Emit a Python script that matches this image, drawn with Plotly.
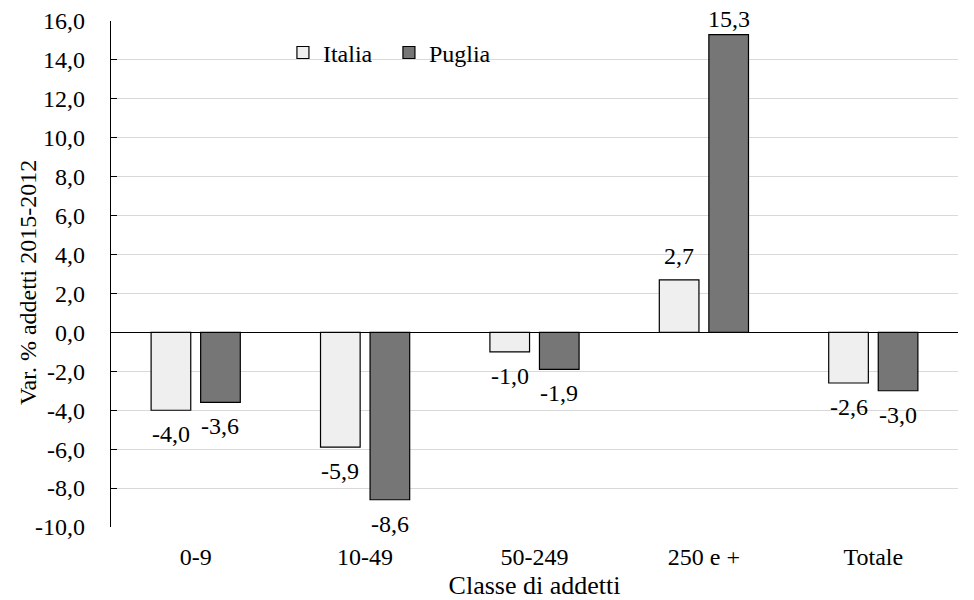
import plotly.graph_objects as go

categories = ["0-9", "10-49", "50-249", "250 e +", "Totale"]
italia = [-4.0, -5.9, -1.0, 2.7, -2.6]
puglia = [-3.6, -8.6, -1.9, 15.3, -3.0]
series_names = ["Italia", "Puglia"]
y_ticks = list(range(-10, 17, 2))
y_ticktext = [f"{v:.1f}".replace(".", ",") for v in y_ticks]

FONT = "'Liberation Serif', 'Times New Roman', 'DejaVu Serif', serif"
FS = 24
Y_MIN, Y_MAX = -10, 16
PX_PER_UNIT = 506 / (Y_MAX - Y_MIN)

fig = go.Figure()
fig.add_trace(go.Bar(x=categories, y=italia, name=series_names[0],
                     marker=dict(color="#efefef", line=dict(color="#000000", width=1.2))))
fig.add_trace(go.Bar(x=categories, y=puglia, name=series_names[1],
                     marker=dict(color="#767676", line=dict(color="#000000", width=1.2))))

# data labels (kept inside the chart area near the top, as in the original)
for vals, shift in ((italia, -24.75), (puglia, 24.75)):
    for c, v in zip(categories, vals):
        if v >= 0:
            ys = min(24, (Y_MAX - v) * PX_PER_UNIT + 1.5)
        else:
            ys = -24
        fig.add_annotation(x=c, y=v, text=f"{v:.1f}".replace(".", ","),
                           showarrow=False, xshift=shift, yshift=ys, yanchor="middle",
                           font=dict(family=FONT, size=FS, color="#000000"))

# y-axis title
fig.add_annotation(xref="paper", yref="paper", x=-0.098, y=0.484,
                   text="Var. % addetti 2015-2012", textangle=-90, showarrow=False,
                   xanchor="center", yanchor="middle",
                   font=dict(family=FONT, size=FS, color="#000000"))

fig.update_layout(
    width=974, height=600,
    margin=dict(l=111, r=16, t=21, b=73, autoexpand=False),
    paper_bgcolor="white", plot_bgcolor="white",
    barmode="group", bargap=0.415, bargroupgap=0.2,
    font=dict(family=FONT, size=FS, color="#000000"),
    showlegend=True,
    legend=dict(orientation="h", x=0.203, xanchor="left", y=0.937, yanchor="middle",
                bgcolor="rgba(0,0,0,0)", font=dict(family=FONT, size=FS),
                entrywidth=61, itemclick=False, itemdoubleclick=False),
    xaxis=dict(type="category", showgrid=False, showline=False, zeroline=False,
               automargin=False,
               ticks="outside", ticklen=8, tickcolor="rgba(0,0,0,0)",
               tickfont=dict(family=FONT, size=FS),
               title=dict(text="Classe di addetti", font=dict(family=FONT, size=26), standoff=9)),
    yaxis=dict(range=[Y_MIN, Y_MAX], tickvals=y_ticks, ticktext=y_ticktext,
               automargin=False,
               showgrid=True, gridcolor="#d9d9d9", gridwidth=1.3,
               zeroline=True, zerolinecolor="#000000", zerolinewidth=1.3,
               showline=True, linecolor="#000000", linewidth=1.3,
               ticks="inside", ticklen=6, tickcolor="#000000", tickwidth=1.3,
               ticklabelstandoff=20,
               tickfont=dict(family=FONT, size=FS)),
)

fig.write_html("out.html", config={"displayModeBar": False},
               post_script="document.body.style.margin='0';")
